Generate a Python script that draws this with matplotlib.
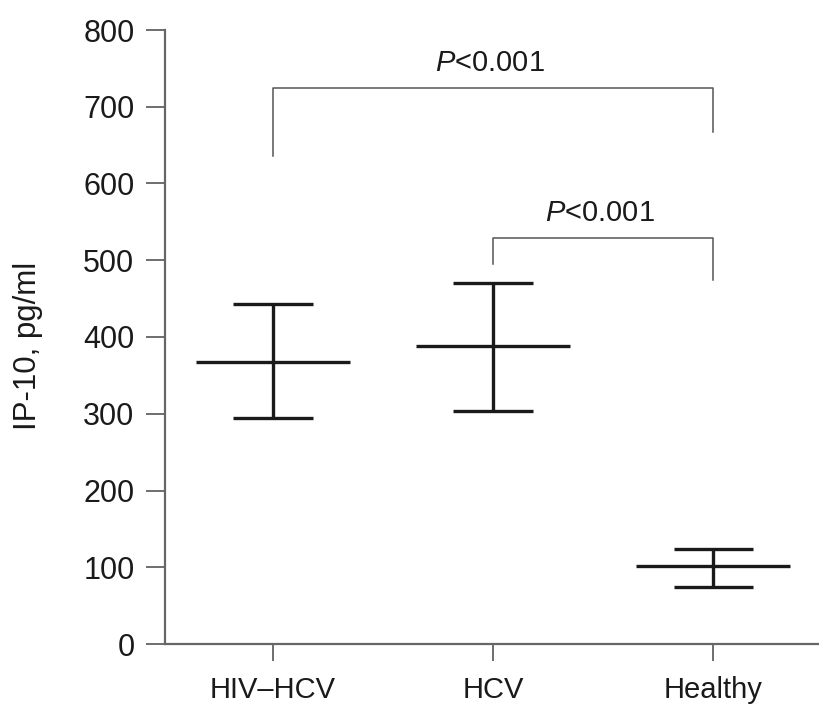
import matplotlib
matplotlib.use("Agg")
import matplotlib.pyplot as plt

groups = ["HIV\u2013HCV", "HCV", "Healthy"]
means = [368, 388, 101]
upper = [443, 471, 124]
lower = [294, 303, 74]
y_ticks = [0, 100, 200, 300, 400, 500, 600, 700, 800]

# comparison brackets: (left group, right group, bar level, left leg end, right leg end, label)
brackets = [
    (0, 2, 724, 636, 667, "P<0.001"),
    (1, 2, 529, 495, 474, "P<0.001"),
]

plt.rcParams['font.family'] = ['Liberation Sans', 'DejaVu Sans']
plt.rcParams['mathtext.fontset'] = 'custom'
plt.rcParams['mathtext.it'] = 'Liberation Sans:italic'
plt.rcParams['mathtext.rm'] = 'Liberation Sans'

fig = plt.figure(figsize=(8.19, 7.04), dpi=100)
ax = fig.add_axes([165/819, 1-644/704, 1-165/819, (644-30)/704])

xs = list(range(len(groups)))
mean_hw = 0.35
cap_hw = 0.18
lw = 2.4
dark = '#1a1a1a'
for x, m, u, l in zip(xs, means, upper, lower):
    ax.plot([x, x], [l, u], color=dark, lw=lw, solid_capstyle='butt')
    ax.plot([x - cap_hw, x + cap_hw], [u, u], color=dark, lw=lw, solid_capstyle='butt')
    ax.plot([x - cap_hw, x + cap_hw], [l, l], color=dark, lw=lw, solid_capstyle='butt')
    ax.plot([x - mean_hw, x + mean_hw], [m, m], color=dark, lw=lw, solid_capstyle='butt')

for a, b, lvl, la, lb, txt in brackets:
    ax.plot([a, a, b, b], [la, lvl, lvl, lb], color='#555555', lw=1.1)
    ax.text((a + b) / 2 - 0.015, lvl + 22, r"$\it{P}$<0.001", ha='center', va='baseline',
            fontsize=21, color=dark)

ax.set_xlim(-0.49, 2.48)
ax.set_ylim(0, 800)
ax.set_yticks(y_ticks)
ax.set_yticklabels([str(t) for t in y_ticks])
ax.set_xticks(xs)
ax.set_xticklabels(groups)

for s in ['top', 'right']:
    ax.spines[s].set_visible(False)
for s in ['left', 'bottom']:
    ax.spines[s].set_color('#666666')
    ax.spines[s].set_linewidth(1.6)

ax.tick_params(axis='both', direction='out', length=14, width=1.2, color='#555555',
               labelsize=22, labelcolor=dark, pad=8)
ax.tick_params(axis='x', length=12, pad=11, labelsize=21)
ax.set_ylabel("IP-10, pg/ml", fontsize=22.5, color=dark)
ax.yaxis.set_label_coords(-0.186, 0.485)

fig.savefig("out.png", dpi=100)
